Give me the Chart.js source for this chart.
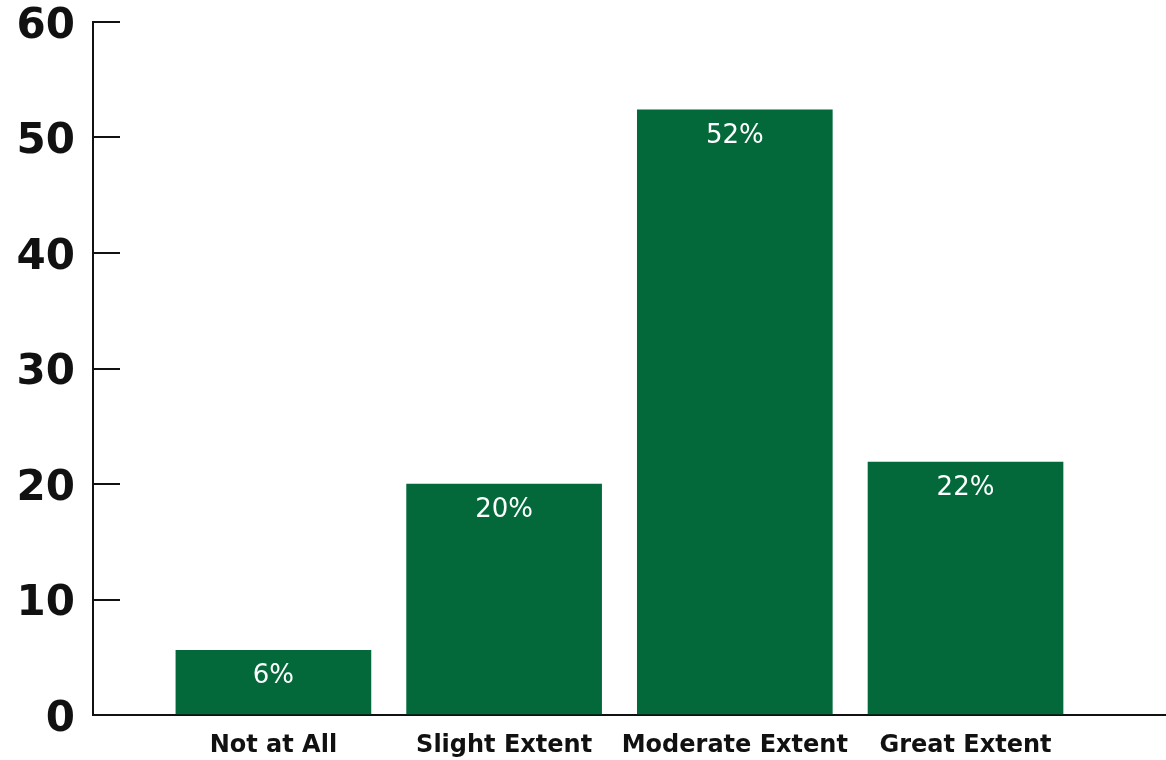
<!DOCTYPE html>
<html>
<head>
<meta charset="utf-8">
<script src="https://cdn.jsdelivr.net/npm/chart.js@4/dist/chart.umd.min.js"></script>
<style>
  html, body { margin: 0; padding: 0; background: #ffffff; }
  #wrap { width: 1166px; height: 760px; position: relative; }
</style>
</head>
<body>
<div id="wrap"><canvas id="c" width="1166" height="760"></canvas></div>
<script>
const categories = ['Not at All', 'Slight Extent', 'Moderate Extent', 'Great Extent'];
const values = [5.6, 20.0, 52.4, 21.9];
const yTicks = [0, 10, 20, 30, 40, 50, 60];

const FONT = "'DejaVu Sans', 'Noto Sans', sans-serif";
const GREEN = '#03693a';

const points = values.map((v, i) => ({ x: i, y: v }));

const barLabels = {
  id: 'barLabels',
  afterDatasetsDraw(chart) {
    const ctx = chart.ctx;
    const meta = chart.getDatasetMeta(0);
    ctx.save();
    ctx.fillStyle = '#ffffff';
    ctx.font = "normal 26px " + FONT;
    ctx.textAlign = 'center';
    ctx.textBaseline = 'middle';
    meta.data.forEach((bar, i) => {
      ctx.fillText(Math.round(values[i]) + '%', bar.x, bar.y + 26);
    });
    ctx.restore();
  }
};

new Chart(document.getElementById('c'), {
  type: 'bar',
  data: {
    datasets: [{
      data: points,
      backgroundColor: GREEN,
      borderWidth: 0,
      barThickness: 195
    }]
  },
  options: {
    responsive: false,
    animation: false,
    layout: { padding: { top: 0, right: 0, bottom: 0, left: 0 } },
    plugins: { legend: { display: false }, tooltip: { enabled: false } },
    scales: {
      x: {
        type: 'linear',
        offset: false,
        min: -0.782,
        max: 3.869,
        afterBuildTicks(scale) {
          scale.ticks = categories.map((c, i) => ({ value: i }));
        },
        afterFit(scale) {
          scale.height = 45;
          scale.paddingBottom = 0;
          scale.paddingTop = 0;
        },
        grid: { display: false, drawTicks: false, offset: false },
        border: { display: true, color: '#111111', width: 2 },
        ticks: {
          autoSkip: false,
          maxRotation: 0,
          padding: 16,
          color: '#111111',
          font: { family: FONT, size: 24, weight: 'bold', lineHeight: 1.2 },
          callback: (v) => categories[v] !== undefined ? categories[v] : ''
        }
      },
      y: {
        min: 0,
        max: 60,
        afterBuildTicks(scale) {
          scale.ticks = yTicks.map(v => ({ value: v }));
        },
        afterFit(scale) {
          scale.width = 93;
          scale.paddingTop = 22;
          scale.paddingBottom = 0;
        },
        grid: { display: true, drawOnChartArea: false, drawTicks: true, tickLength: -27, color: '#111111', lineWidth: 2 },
        border: { display: true, color: '#111111', width: 2 },
        ticks: {
          padding: 45,
          labelOffset: 5,
          color: '#111111',
          font: { family: FONT, size: 42, weight: 'bold', lineHeight: 1.0 }
        }
      }
    }
  },
  plugins: [barLabels]
});
</script>
</body>
</html>
